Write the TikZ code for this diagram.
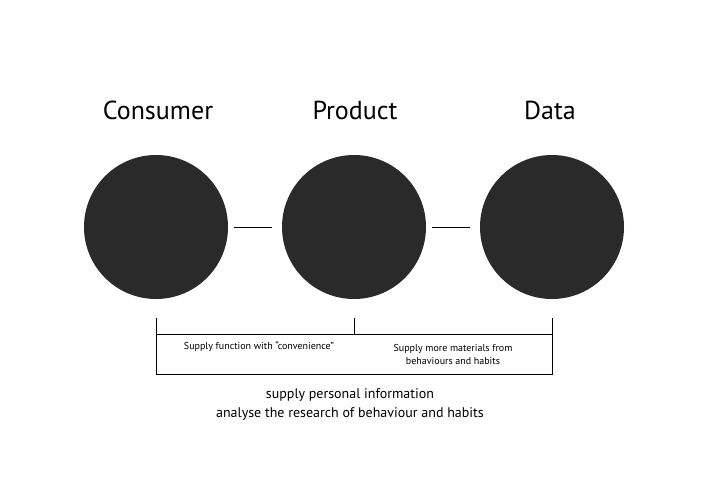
\documentclass[tikz,border=0pt]{standalone}
\usepackage{fontspec}
\setmainfont{PT Sans}
\definecolor{dot}{HTML}{2A2A2A}
\begin{document}
\begin{tikzpicture}[x=1pt,y=-1pt,
  ball/.style={circle,fill=dot,minimum size=144pt,inner sep=0pt},
  title/.style={font=\fontsize{26}{30}\selectfont},
  small/.style={font=\fontsize{10}{13}\selectfont,align=center},
  mid/.style={font=\fontsize{14}{19}\selectfont,align=center}]
\useasboundingbox (0,0) rectangle (709,499);

% circles and their titles
\node[ball] (consumer) at (156,227) {};
\node[ball] (product) at (354,227) {};
\node[ball] (data) at (552,227) {};
\node[title] (tc) at (158,110) {Consumer};
\node[title] (tp) at (355,110) {Product};
\node[title] (td) at (550,110) {Data};

\draw[shorten <=6pt,shorten >=10pt] (consumer.east) -- (product.west);
\draw[shorten <=6pt,shorten >=10pt] (product.east) -- (data.west);

% brackets
\coordinate (a1) at (156,318); \coordinate (a2) at (156,374);
\coordinate (b1) at (354,318); \coordinate (b2) at (354,334);
\coordinate (c1) at (552,318); \coordinate (c2) at (552,374);
\draw[line width=0.6pt] (a1) -- (a2) -- (c2) -- (c1);
\draw[line width=0.6pt] (b1) -- (b2);
\draw[line width=0.6pt] (a1 |- b2) -- (c1 |- b2);

\node[small] (conv) at (259,347) {Supply function with “convenience”};
\node[small] (more) at (453,354) {Supply more materials from\\behaviours and habits};
\node[mid] (info) at (350,404) {supply personal information\\analyse the research of behaviour and habits};
\end{tikzpicture}
\end{document}
